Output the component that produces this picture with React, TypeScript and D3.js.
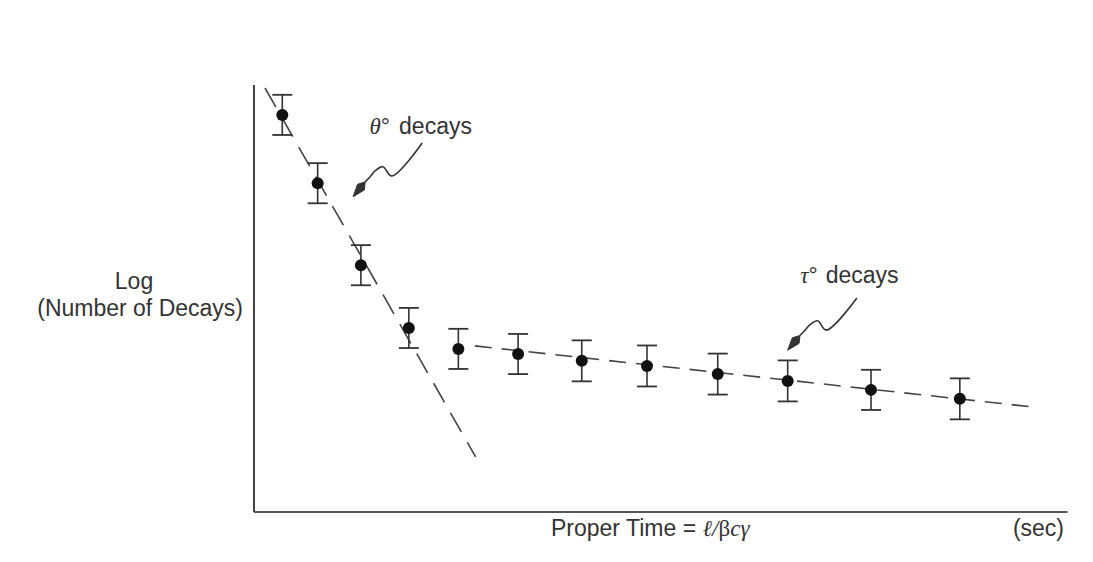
import React from "react";
import * as d3 from "d3";

// ---- data (arbitrary units: proper time, log number of decays) ----
const times = [0.36, 0.81, 1.36, 1.97, 2.6, 3.36, 4.17, 5.0, 5.9, 6.79, 7.85, 8.98];
const logCounts = [9.3, 7.7, 5.78, 4.31, 3.82, 3.7, 3.54, 3.42, 3.23, 3.07, 2.86, 2.65];
const errors = [0.47, 0.47, 0.47, 0.47, 0.47, 0.47, 0.48, 0.48, 0.48, 0.48, 0.47, 0.48];

const thetaFitX = [0.14, 2.82];
const thetaFitY = [9.93, 1.29];
const tauFitX = [2.81, 9.91];
const tauFitY = [3.89, 2.46];

// annotation arrows: [startX, startY, tipX, tipY] in data units
const thetaArrow = [2.14, 8.64, 1.26, 7.38];
const tauArrow = [7.67, 5.01, 6.79, 3.79];
// squiggle shape in local frame (fraction along, perpendicular offset fraction)
const squiggle: [number, number][] = [
  [0, 0],
  [0.505, -0.083],
  [0.52, 0.063],
  [0.62, 0.08],
  [0.705, 0.062],
  [0.785, 0.05],
];

const W = 1093;
const H = 562;
const INK = "#333";

export default function App() {
  const x = d3.scaleLinear().domain([0, 10]).range([254, 1040]);
  const y = d3.scaleLinear().domain([0, 10]).range([512, 85]);

  const line = d3
    .line<[number, number]>()
    .x((d) => x(d[0]))
    .y((d) => y(d[1]));

  const thetaPts: [number, number][] = thetaFitX.map((v, i) => [v, thetaFitY[i]]);
  const tauPts: [number, number][] = tauFitX.map((v, i) => [v, tauFitY[i]]);

  const arrow = (a: number[]) => {
    const sx = x(a[0]), sy = y(a[1]), tx = x(a[2]), ty = y(a[3]);
    const dx = tx - sx, dy = ty - sy;
    const L = Math.hypot(dx, dy);
    const ux = dx / L, uy = dy / L;
    const vx = -uy, vy = ux; // perpendicular
    const toPx = (p: [number, number]): [number, number] => [
      sx + ux * p[0] * L + vx * p[1] * L,
      sy + uy * p[0] * L + vy * p[1] * L,
    ];
    const pts = squiggle.map(toPx);
    const path = d3
      .line<[number, number]>()
      .curve(d3.curveCatmullRom.alpha(0.5))(pts) as string;
    const base = pts[pts.length - 1];
    const hx = tx - base[0], hy = ty - base[1];
    const hl = Math.hypot(hx, hy);
    const hux = hx / hl, huy = hy / hl;
    const pvx = -huy, pvy = hux;
    const w = 4.4;
    const mid: [number, number] = [base[0] + hux * hl * 0.35, base[1] + huy * hl * 0.35];
    const head = `M${base[0]},${base[1]} L${mid[0] + pvx * w},${mid[1] + pvy * w} L${tx},${ty} L${mid[0] - pvx * w},${mid[1] - pvy * w} Z`;
    return (
      <g>
        <path d={path} fill="none" stroke={INK} strokeWidth={1.6} />
        <path d={head} fill={INK} stroke={INK} strokeWidth={1} strokeLinejoin="round" />
      </g>
    );
  };

  const fontSans = "'Liberation Sans', Arial, sans-serif";
  const fontSerif = "'Liberation Serif', 'DejaVu Serif', serif";
  const fs = 23;

  return (
    <div style={{ position: "fixed", left: 0, top: 0 }}>
      <svg width={W} height={H} viewBox={`0 0 ${W} ${H}`} style={{ display: "block", background: "#fff" }}>
        {/* axes */}
        <line x1={x(0)} y1={y(0)} x2={x(0)} y2={y(10)} stroke="#444" strokeWidth={2} />
        <line x1={x(0)} y1={y(0)} x2={x(10.35)} y2={y(0)} stroke="#555" strokeWidth={2} />

        {/* fits */}
        <path d={line(thetaPts) as string} fill="none" stroke="#444" strokeWidth={1.6} strokeDasharray="22 12" />
        <path d={line(tauPts) as string} fill="none" stroke="#444" strokeWidth={1.6} strokeDasharray="17 10" />

        {/* data with error bars */}
        {times.map((t, i) => {
          const cx = x(t);
          const top = y(logCounts[i] + errors[i]);
          const bot = y(logCounts[i] - errors[i]);
          return (
            <g key={i}>
              <line x1={cx} x2={cx} y1={top} y2={bot} stroke={INK} strokeWidth={1.6} />
              <line x1={cx - 10} x2={cx + 10} y1={top} y2={top} stroke={INK} strokeWidth={1.8} />
              <line x1={cx - 10} x2={cx + 10} y1={bot} y2={bot} stroke={INK} strokeWidth={1.8} />
              <circle cx={cx} cy={y(logCounts[i])} r={6} fill="#111" />
            </g>
          );
        })}

        {/* annotations */}
        {arrow(thetaArrow)}
        {arrow(tauArrow)}
        <text x={x(1.47)} y={y(8.86)} fontFamily={fontSans} fontSize={fs} fill={INK}>
          <tspan fontFamily={fontSerif} fontStyle="italic">θ</tspan>
          <tspan>°</tspan>
          <tspan dx={9}>decays</tspan>
        </text>
        <text x={x(6.95)} y={y(5.36)} fontFamily={fontSans} fontSize={fs} fill={INK}>
          <tspan fontFamily={fontSerif} fontStyle="italic">τ</tspan>
          <tspan>°</tspan>
          <tspan dx={8}>decays</tspan>
        </text>

        {/* axis titles */}
        <text x={134} y={289} textAnchor="middle" fontFamily={fontSans} fontSize={fs} fill={INK}>Log</text>
        <text x={243} y={316} textAnchor="end" fontFamily={fontSans} fontSize={fs} fill={INK}>(Number of Decays)</text>
        <text x={551} y={536} fontFamily={fontSans} fontSize={fs} fill={INK}>
          Proper Time = <tspan fontFamily={fontSerif} fontStyle="italic">ℓ/</tspan>
          <tspan fontFamily={fontSerif}>β</tspan>
          <tspan fontFamily={fontSerif} fontStyle="italic">cγ</tspan>
        </text>
        <text x={1064} y={536} textAnchor="end" fontFamily={fontSans} fontSize={fs} fill={INK}>(sec)</text>
      </svg>
    </div>
  );
}
